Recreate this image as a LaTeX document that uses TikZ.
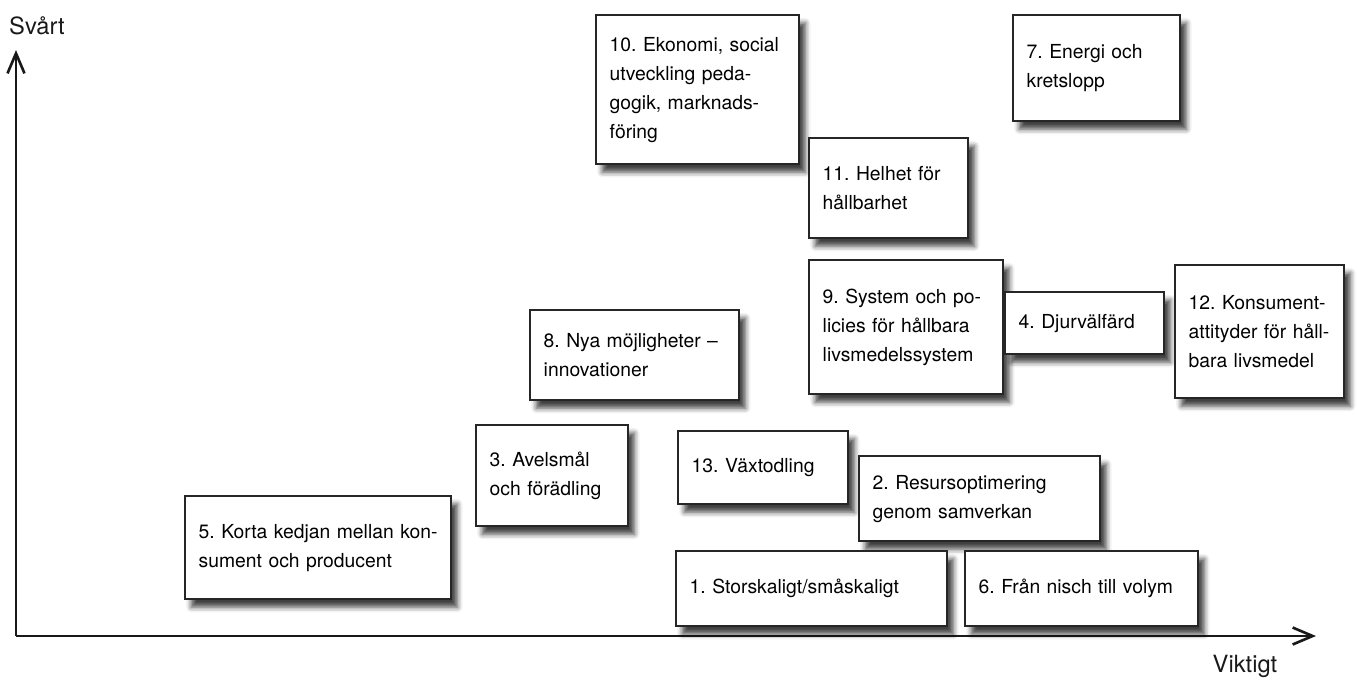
\documentclass[tikz,border=0pt]{standalone}
\usepackage{fontspec}
\setmainfont{TeX Gyre Heros}
\usetikzlibrary{arrows.meta,shadows.blur}

\tikzset{
  card/.style={draw=black!85, line width=1.4pt, fill=white, anchor=north west,
    align=left, inner xsep=0.27cm, inner ysep=0pt, text=black,
    font=\fontsize{11}{16.5}\selectfont\frenchspacing,
    blur shadow={shadow xshift=3.5pt, shadow yshift=-4.5pt,
      shadow blur radius=3pt, shadow opacity=75}},
  axis/.style={line width=1.5pt, black!90,
    -{Straight Barb[length=0.4cm, width=0.34cm]}},
  axislabel/.style={font=\fontsize{13.5}{16}\selectfont, text=black!90}
}

\begin{document}
\begin{tikzpicture}[x=0.02cm, y=-0.02cm]
    \useasboundingbox (0,0) rectangle (1357,681);

    % Axes
    \coordinate (origin) at (16,636);
    \coordinate (ytip) at (16,50);
    \coordinate (xtip) at (1316,636);
    \draw [axis] (origin) -- (ytip);
    \draw [axis] (origin) -- (xtip);
    \node [axislabel] (svart) at (37,26) {Svårt};
    \node [axislabel] (viktigt) at (1245,666) {Viktigt};

    % Areas
    \foreach \name/\xa/\ya/\xb/\yb/\txt in {
        b10/595/14/798/163/{10. Ekonomi, social\\utveckling peda-\\gogik, marknads-\\föring},
        b11/808/137/967/237/{11. Helhet för\\hållbarhet},
        b7/1012/14/1179/120/{7. Energi och\\kretslopp},
        b9/808/259/1002/393/{9. System och po-\\licies för hållbara\\livsmedelssystem},
        b4/1004/291/1163/353/{4. Djurvälfärd},
        b12/1174/264/1343/397/{12. Konsument-\\attityder för håll-\\bara livsmedel},
        b8/529/309/738/399/{8. Nya möjligheter –\\innovationer},
        b3/475/424/627/525/{3. Avelsmål\\och förädling},
        b13/677/430/847/503/{13. Växtodling},
        b2/858/455/1099/540/{2. Resursoptimering\\genom samverkan},
        b5/184/495/450/598/{5. Korta kedjan mellan kon-\\sument och producent},
        b1/675/550/946/625/{1. Storskaligt/småskaligt},
        b6/964/550/1197/625/{6. Från nisch till volym}} {
      \pgfmathsetmacro\tw{(\xb-\xa)*0.02-0.54}
      \pgfmathsetmacro\th{(\yb-\ya)*0.02}
      \node [card, text width=\tw cm, minimum height=\th cm] (\name) at (\xa,\ya) {\txt};
    }
\end{tikzpicture}
\end{document}
